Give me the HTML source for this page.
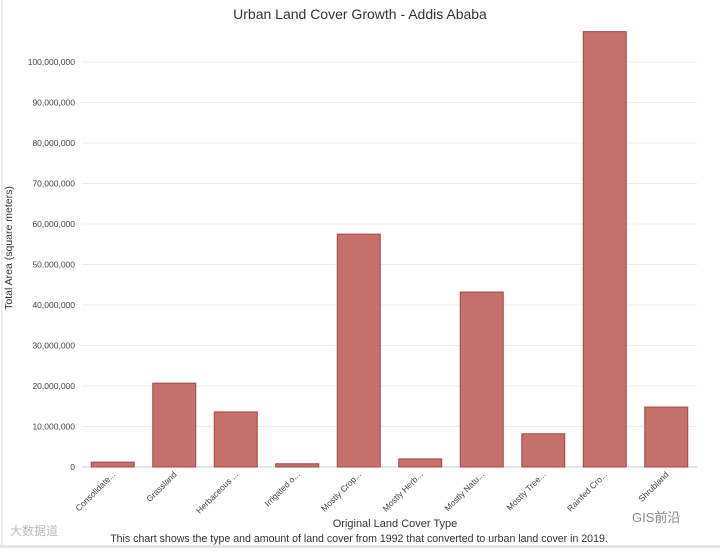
<!DOCTYPE html>
<html><head><meta charset="utf-8"><style>
body{margin:0;background:#fff;width:720px;height:548px;overflow:hidden;font-family:"Liberation Sans","Noto Sans CJK SC",sans-serif}
</style></head><body>
<svg id="c" width="720" height="548" font-family="Liberation Sans, Noto Sans CJK SC, sans-serif">
<rect x="0" y="0" width="720" height="548" fill="#fff"/>
<line x1="2" y1="0" x2="2" y2="548" stroke="#ddd"/>
<rect x="0" y="545" width="720" height="3" fill="#e6e6e6"/>
<text x="360" y="19" text-anchor="middle" font-size="14" fill="#333">Urban Land Cover Growth - Addis Ababa</text>
<g id="grid"></g><g id="bars"></g><g id="xl"></g>
<text transform="translate(12,248) rotate(-90)" text-anchor="middle" font-size="10.5" fill="#333">Total Area (square meters)</text>
<text x="395" y="527" text-anchor="middle" font-size="11" fill="#333">Original Land Cover Type</text>
<text x="359" y="542" text-anchor="middle" font-size="10.6" fill="#333">This chart shows the type and amount of land cover from 1992 that converted to urban land cover in 2019.</text>
<text x="10" y="535" font-size="12" fill="#bbb">大数据道</text>
<text x="632" y="522" font-size="13" fill="#888">GIS前沿</text>
</svg>
<script>
const categories=["Consolidate...","Grassland","Herbaceous ...","Irrigated o...","Mostly Crop...","Mostly Herb...","Mostly Natu...","Mostly Tree...","Rainfed Cro...","Shrubland"];
const values=[1200000,20700000,13600000,800000,57500000,2000000,43200000,8200000,107500000,14800000];
const ticks=[0,10000000,20000000,30000000,40000000,50000000,60000000,70000000,80000000,90000000,100000000];
const NS="http://www.w3.org/2000/svg";
const x0=82,x1=697,yBase=467,yTop=62,maxV=100000000;
const y=v=>yBase-(v/maxV)*(yBase-yTop);
const band=(x1-x0)/categories.length;
const xc=i=>x0+band*(i+0.5);
function mk(t,a,p){const e=document.createElementNS(NS,t);for(const k in a)e.setAttribute(k,a[k]);p.appendChild(e);return e;}
const g=document.getElementById('grid');
ticks.forEach(t=>{
 const l=mk('line',{x1:x0,x2:x1,y1:y(t),y2:y(t),stroke:t===0?'#ccc':'#ececec'},g);
 
 
 const tx=mk('text',{x:75,y:y(t)+3,'text-anchor':'end','font-size':'8.5',fill:'#444'},g);
 tx.textContent=t.toLocaleString('en-US');
 
 
});
const b=document.getElementById('bars'),xl=document.getElementById('xl');
categories.forEach((c,i)=>{
 const w=43;
 const r=mk('rect',{x:xc(i)-w/2,y:y(values[i]),width:w,height:yBase-y(values[i]),fill:'#c5706a',stroke:'#9e4a44','stroke-width':1},b);
 
 
 const t=mk('text',{transform:`translate(${xc(i)+3},${yBase+8}) rotate(-45)`,'text-anchor':'end','font-size':'8.5',fill:'#444'},xl);
 t.textContent=c;
 
 
});
</script>
</body></html>
